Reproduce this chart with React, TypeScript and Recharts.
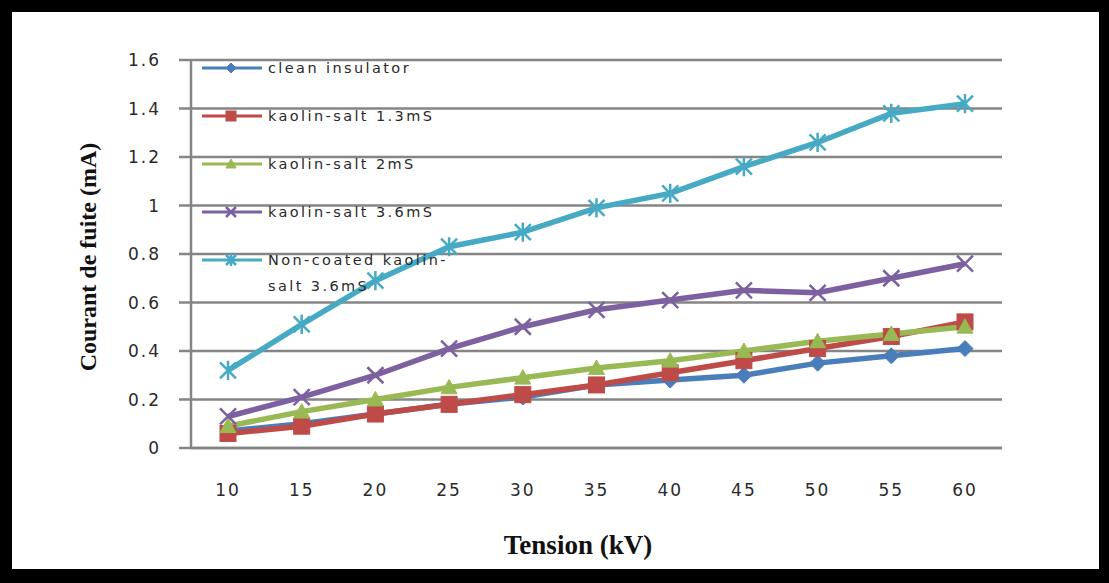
import React from 'react';
import { LineChart, Line, XAxis, YAxis, CartesianGrid, Legend } from 'recharts';

// Tension (kV)
const tension = ['10', '15', '20', '25', '30', '35', '40', '45', '50', '55', '60'];

// Courant de fuite (mA)
const cleanInsulator = [0.07, 0.1, 0.14, 0.18, 0.21, 0.26, 0.28, 0.3, 0.35, 0.38, 0.41];
const kaolin13 = [0.06, 0.09, 0.14, 0.18, 0.22, 0.26, 0.31, 0.36, 0.41, 0.46, 0.52];
const kaolin2 = [0.09, 0.15, 0.2, 0.25, 0.29, 0.33, 0.36, 0.4, 0.44, 0.47, 0.5];
const kaolin36 = [0.13, 0.21, 0.3, 0.41, 0.5, 0.57, 0.61, 0.65, 0.64, 0.7, 0.76];
const nonCoated36 = [0.32, 0.51, 0.69, 0.83, 0.89, 0.99, 1.05, 1.16, 1.26, 1.38, 1.42];

const yTicks = [0, 0.2, 0.4, 0.6, 0.8, 1, 1.2, 1.4, 1.6];

const series = [
  { key: 'clean', name: 'clean insulator', color: '#4A7EBB', shape: 'diamond', values: cleanInsulator },
  { key: 'k13', name: 'kaolin-salt 1.3mS', color: '#BE4B48', shape: 'square', values: kaolin13 },
  { key: 'k2', name: 'kaolin-salt 2mS', color: '#98B954', shape: 'triangle', values: kaolin2 },
  { key: 'k36', name: 'kaolin-salt 3.6mS', color: '#7D60A0', shape: 'x', values: kaolin36 },
  { key: 'nc36', name: 'Non-coated kaolin-salt 3.6mS', color: '#46AAC5', shape: 'star', values: nonCoated36 },
];

const data = tension.map((t, i) => {
  const row: Record<string, string | number> = { tension: t };
  series.forEach((s) => {
    row[s.key] = s.values[i];
  });
  return row;
});

const GRID = '#858585';

const Marker = ({ shape, cx, cy, color, s }: { shape: string; cx: number; cy: number; color: string; s: number }) => {
  switch (shape) {
    case 'diamond':
      return <path d={`M${cx},${cy - s} L${cx + s},${cy} L${cx},${cy + s} L${cx - s},${cy} Z`} fill={color} stroke={color} />;
    case 'square':
      return <rect x={cx - s} y={cy - s} width={s * 2} height={s * 2} fill={color} stroke={color} />;
    case 'triangle':
      return <path d={`M${cx},${cy - s} L${cx + s},${cy + s * 0.8} L${cx - s},${cy + s * 0.8} Z`} fill={color} stroke={color} />;
    case 'x':
      return (
        <path
          d={`M${cx - s},${cy - s} L${cx + s},${cy + s} M${cx - s},${cy + s} L${cx + s},${cy - s}`}
          stroke={color}
          strokeWidth={2.5}
          fill="none"
        />
      );
    default:
      return (
        <path
          d={`M${cx - s},${cy - s} L${cx + s},${cy + s} M${cx - s},${cy + s} L${cx + s},${cy - s} M${cx},${cy - s * 1.2} L${cx},${cy + s * 1.2}`}
          stroke={color}
          strokeWidth={2.5}
          fill="none"
        />
      );
  }
};

const LegendBox = () => (
  <div style={{ fontFamily: 'DejaVu Sans', fontSize: 14.5, letterSpacing: 2.4, color: '#2a2a2a' }}>
    {series.map((s) => (
      <div key={s.key} style={{ height: 48, display: 'flex', alignItems: 'flex-start' }}>
        <svg width={62} height={26} style={{ flex: 'none' }}>
          <line x1={0} y1={13} x2={60} y2={13} stroke={s.color} strokeWidth={3} />
          <Marker shape={s.shape} cx={29} cy={13} color={s.color} s={5} />
        </svg>
        <span style={{ width: 195, lineHeight: '26px', marginLeft: 4 }}>{s.name}</span>
      </div>
    ))}
  </div>
);

const tickStyle = { fill: '#2a2a2a', fontSize: 17, fontFamily: 'DejaVu Sans', letterSpacing: 2 };

const App: React.FC = () => {
  return (
    <div style={{ position: 'absolute', left: 0, top: 0, width: 1109, height: 583, background: '#000' }}>
      <div style={{ position: 'absolute', left: 12, top: 12, width: 1087, height: 557, background: '#fff' }} />
      <div style={{ position: 'absolute', left: 0, top: 0 }}>
        <LineChart width={1109} height={583} data={data} margin={{ top: 60, right: 107, left: 131, bottom: 75 }}>
          <CartesianGrid vertical={false} stroke={GRID} strokeWidth={2.5} />
          <XAxis
            dataKey="tension"
            padding={{ left: 37, right: 37 }}
            height={60}
            axisLine={{ stroke: GRID, strokeWidth: 2.5 }}
            tickLine={false}
            tickSize={0}
            tickMargin={36}
            tick={tickStyle}
          />
          <YAxis
            width={60}
            domain={[0, 1.6]}
            ticks={yTicks}
            axisLine={{ stroke: GRID, strokeWidth: 2.5 }}
            tickLine={{ stroke: GRID, strokeWidth: 2.5 }}
            tickSize={12}
            tickMargin={18}
            tick={tickStyle}
          />
          <Legend
            layout="horizontal"
            align="center"
            verticalAlign="middle"
            wrapperStyle={{ top: 55, left: 202, width: 290 }}
            content={() => <LegendBox />}
          />
          {series.map((s) => (
            <Line
              key={s.key}
              dataKey={s.key}
              name={s.name}
              stroke={s.color}
              strokeWidth={5.5}
              isAnimationActive={false}
              dot={(p: any) => <Marker key={`${s.key}-${p.index}`} shape={s.shape} cx={p.cx} cy={p.cy} color={s.color} s={8} />}
              activeDot={false}
            />
          ))}
        </LineChart>
      </div>
      <div
        style={{
          position: 'absolute',
          left: 88,
          top: 257,
          transform: 'translate(-50%, -50%) rotate(-90deg)',
          whiteSpace: 'nowrap',
          fontFamily: 'Liberation Serif',
          fontWeight: 'bold',
          fontSize: 24,
          color: '#111',
        }}
      >
        Courant de fuite (mA)
      </div>
      <div
        style={{
          position: 'absolute',
          left: 578,
          top: 545,
          transform: 'translate(-50%, -50%)',
          whiteSpace: 'nowrap',
          fontFamily: 'Liberation Serif',
          fontWeight: 'bold',
          fontSize: 27,
          color: '#111',
        }}
      >
        Tension (kV)
      </div>
    </div>
  );
};

export default App;
